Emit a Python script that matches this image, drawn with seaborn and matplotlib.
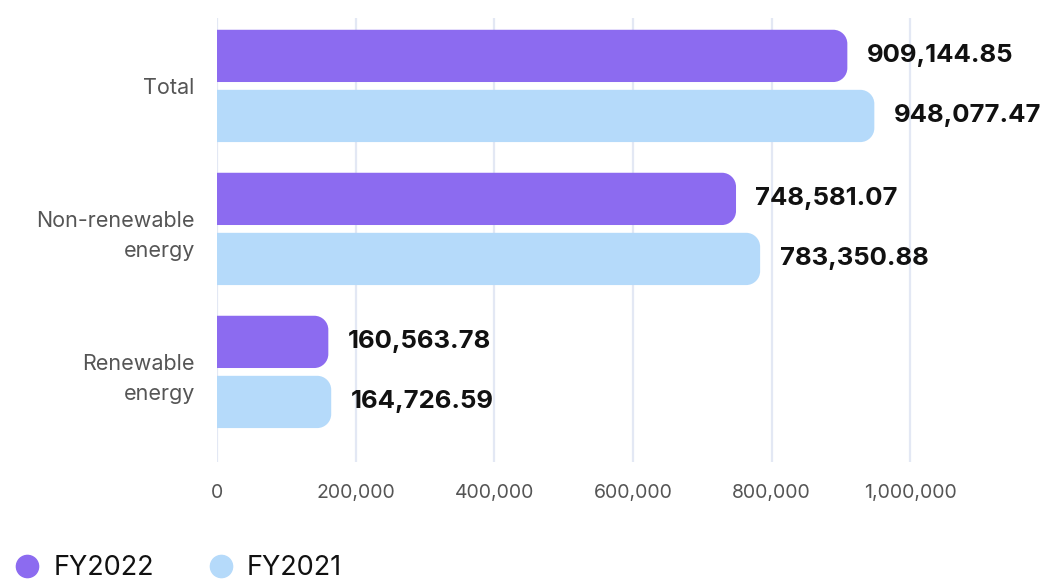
import matplotlib
matplotlib.use("Agg")
import matplotlib.pyplot as plt
from matplotlib.path import Path
from matplotlib.patches import PathPatch
from matplotlib.lines import Line2D
from matplotlib.ticker import FuncFormatter
import seaborn as sns
import pandas as pd

categories = ["Total", "Non-renewable\nenergy", "Renewable\nenergy"]
series_names = ["FY2022", "FY2021"]
fy2022 = [909144.85, 748581.07, 160563.78]
fy2021 = [948077.47, 783350.88, 164726.59]
colors = ["#8C6BF0", "#B5DAFA"]
xticks = [0, 200000, 400000, 600000, 800000, 1000000]

df = pd.DataFrame({
    "category": categories * 2,
    "year": [series_names[0]] * 3 + [series_names[1]] * 3,
    "value": fy2022 + fy2021,
})

sns.set_theme(style="white")
plt.rcParams["font.family"] = ["Inter", "DejaVu Sans"]

fig = plt.figure(figsize=(10.51, 5.87), dpi=100)
ax = fig.add_axes([217 / 1051, 1 - 462 / 587, 832 / 1051, 444 / 587])

sns.barplot(data=df, y="category", x="value", hue="year", orient="h",
            palette=colors, width=0.84, gap=0.13, ax=ax, legend=False,
            errorbar=None, saturation=1)

XMAX = 1.2e6
ax.set_xlim(0, XMAX)
ax.set_ylim(2.63, -0.475)

# rounded right ends
ax_w_px = 832
ax_h_px = 444
r_px = 14
rx = r_px * XMAX / ax_w_px
ry = r_px * (2.63 + 0.475) / ax_h_px
k = 0.5523
bars = [p for p in ax.patches]
for p in bars:
    x0, y0 = p.get_x(), p.get_y()
    w, h = p.get_width(), p.get_height()
    x1, y1 = x0 + w, y0 + h
    fc = p.get_facecolor()
    p.set_visible(False)
    verts = [
        (x0, y0),
        (x1 - rx, y0),
        (x1 - rx + k * rx, y0), (x1, y0 + ry - k * ry), (x1, y0 + ry),
        (x1, y1 - ry),
        (x1, y1 - ry + k * ry), (x1 - rx + k * rx, y1), (x1 - rx, y1),
        (x0, y1),
        (x0, y0),
    ]
    codes = [Path.MOVETO, Path.LINETO,
             Path.CURVE4, Path.CURVE4, Path.CURVE4,
             Path.LINETO,
             Path.CURVE4, Path.CURVE4, Path.CURVE4,
             Path.LINETO, Path.CLOSEPOLY]
    ax.add_patch(PathPatch(Path(verts, codes), facecolor=fc, edgecolor="none", zorder=3))
    ax.annotate(f"{w:,.2f}", xy=(x1, y0 + h / 2), xytext=(14, 0),
                textcoords="offset points", ha="left", va="center",
                fontsize=18.5, fontweight="bold", color="#111111", zorder=4)

ax.set_xticks(xticks)
ax.xaxis.set_major_formatter(FuncFormatter(lambda v, _: f"{int(v):,}"))
ax.grid(axis="x", color="#E3E8F4", linewidth=1.6, zorder=0)
ax.grid(axis="y", visible=False)
ax.set_axisbelow(True)
for s in ax.spines.values():
    s.set_visible(False)
ax.tick_params(axis="x", length=0, pad=16, labelsize=14, labelcolor="#555555")
ax.tick_params(axis="y", length=0, pad=16, labelsize=15.5, labelcolor="#555555")
for t in ax.get_yticklabels():
    t.set_multialignment("right")
    t.set_linespacing(1.6)
ax.set_xlabel("")
ax.set_ylabel("")

handles = [Line2D([0], [0], marker="o", linestyle="none", markersize=16,
                  markerfacecolor=c, markeredgecolor=c) for c in colors]
fig.legend(handles, series_names, loc="lower left", bbox_to_anchor=(-0.010, -0.032),
           ncol=2, frameon=False, fontsize=19.5, handletextpad=0.45,
           columnspacing=2.0, handlelength=1.0, labelcolor="#111111")

fig.savefig("out.png", dpi=100)
